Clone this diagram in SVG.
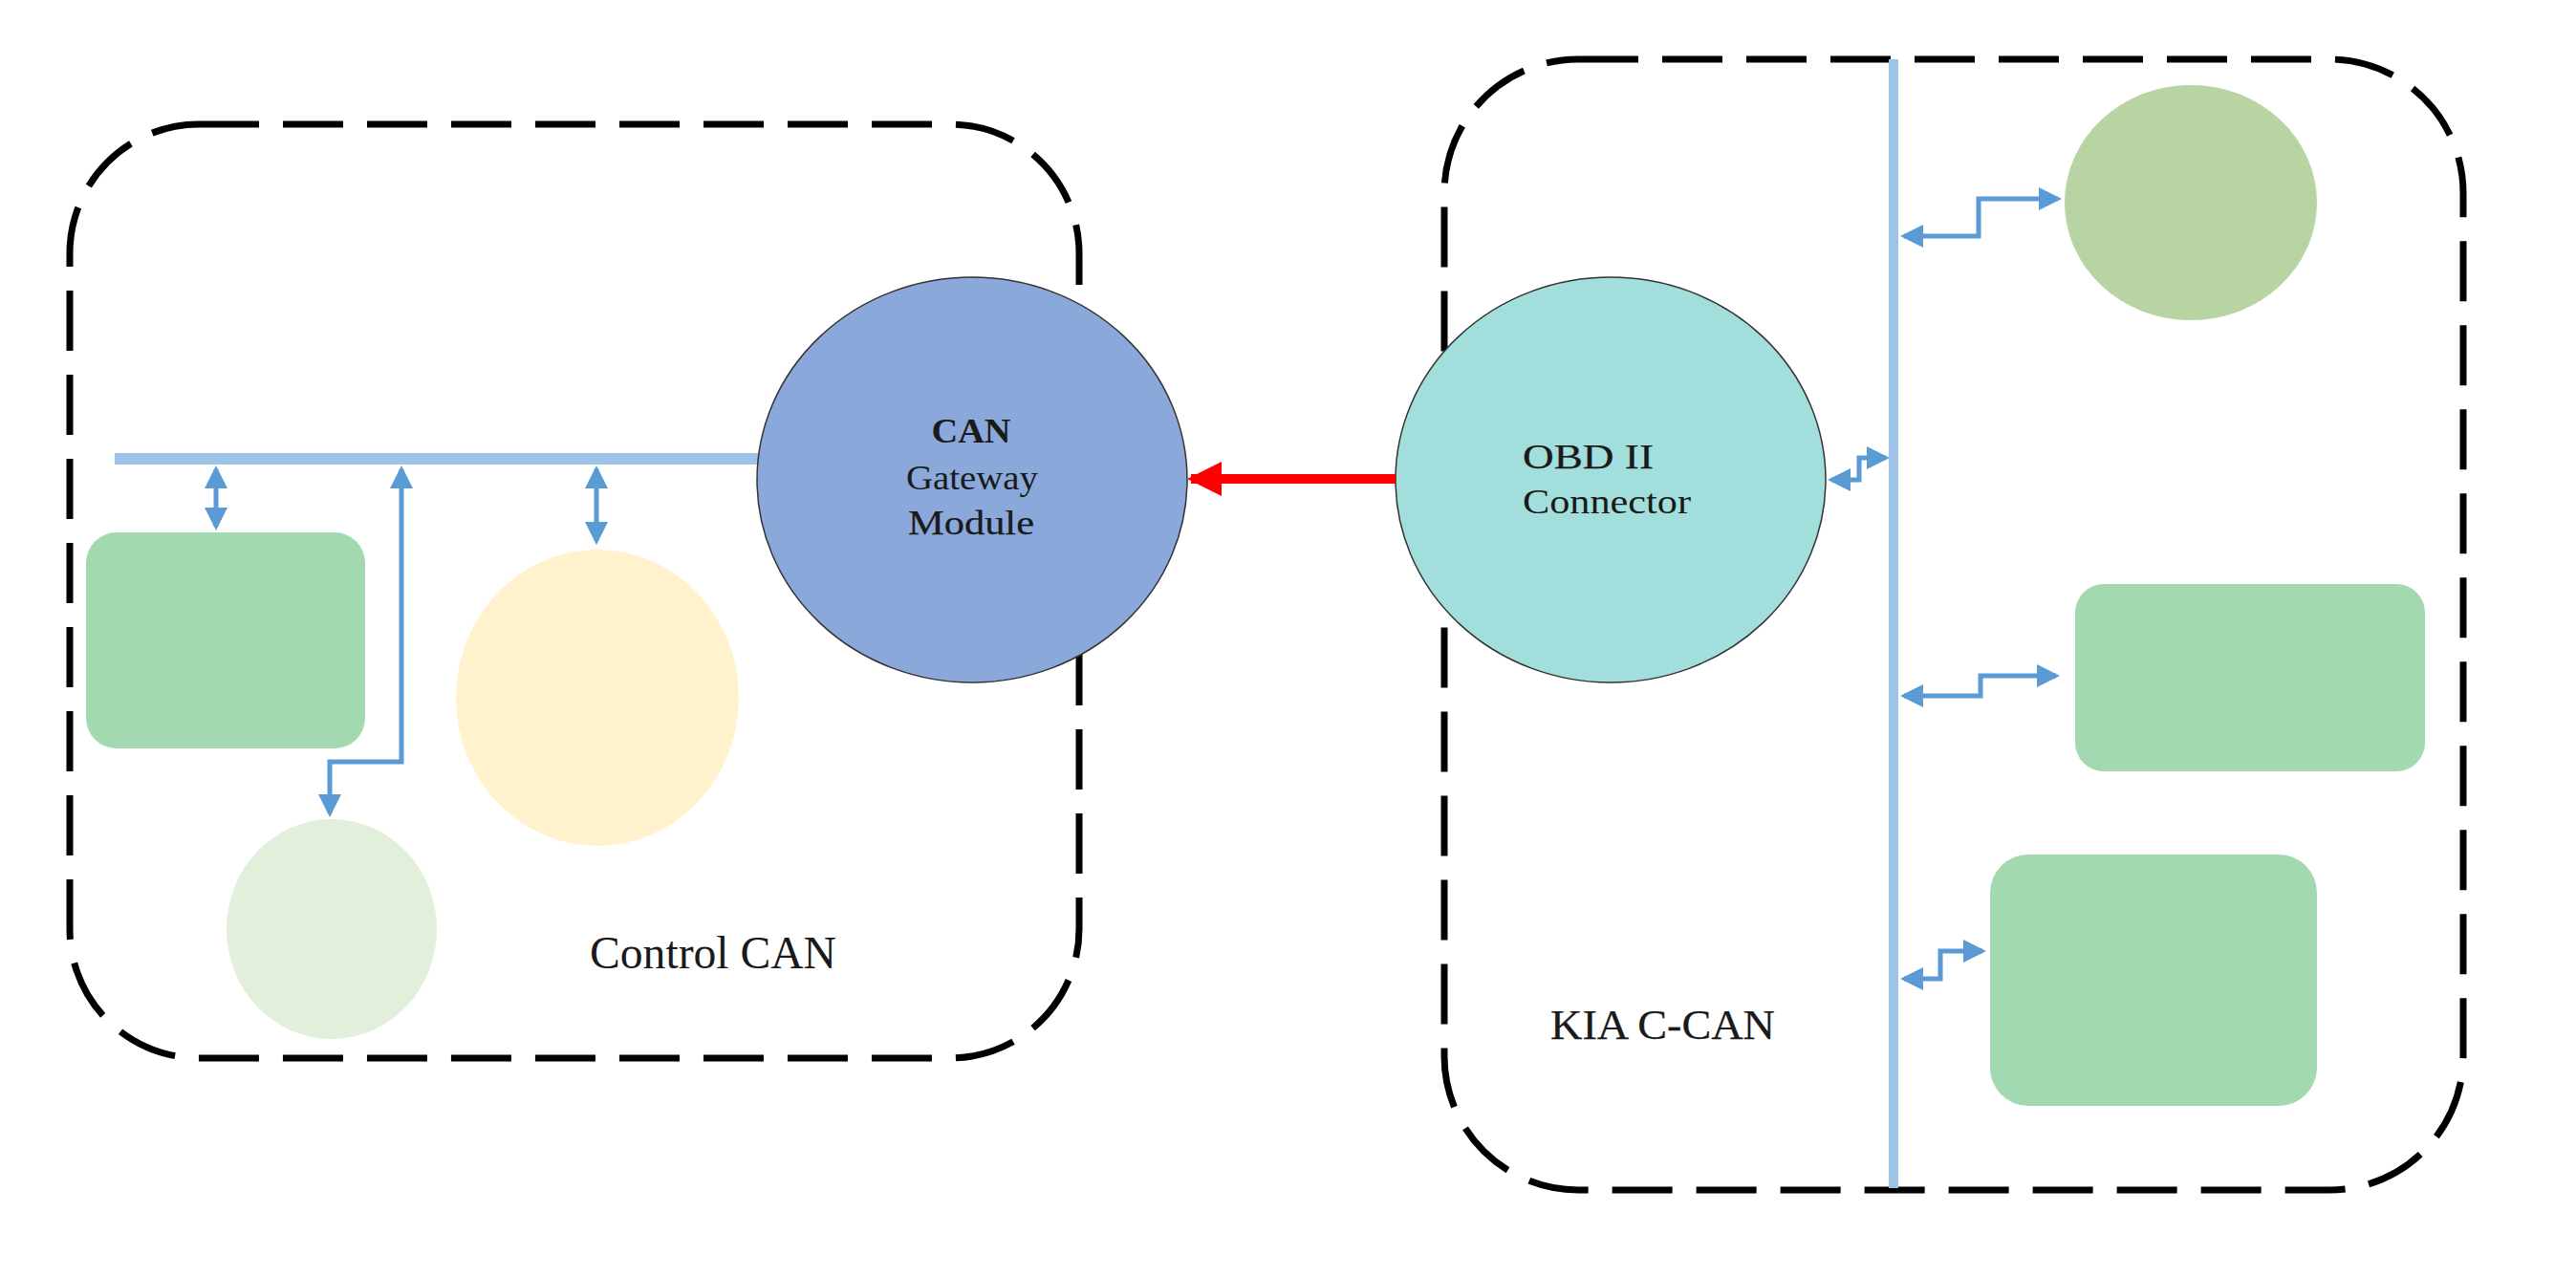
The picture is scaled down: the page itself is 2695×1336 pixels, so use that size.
<svg xmlns="http://www.w3.org/2000/svg" width="2695" height="1336" viewBox="0 0 2695 1336">
  <style>
    .domain { fill: none; stroke: #000000; stroke-width: 7; stroke-dasharray: 63 25; }
    .bus { stroke: #9DC3E6; fill: none; }
    .link { fill: none; stroke: #5B9BD5; stroke-width: 5; marker-start: url(#blueHead); marker-end: url(#blueHead); }
    .hub { stroke: #333333; stroke-width: 1.5; }
    .lbl { font-family: "Liberation Serif", "Times New Roman", serif; fill: #1a1a1a; }
    .heavy { stroke: #1a1a1a; stroke-width: 0.25; }
  </style>
  <defs>
    <marker id="blueHead" markerUnits="userSpaceOnUse" markerWidth="24" markerHeight="24" viewBox="0 0 24 24" refX="20" refY="12" orient="auto-start-reverse">
      <path d="M0,0 L24,12 L0,24 z" fill="#5B9BD5"/>
    </marker>
    <marker id="redHead" markerUnits="userSpaceOnUse" markerWidth="36" markerHeight="36" viewBox="0 0 36 36" refX="32" refY="18" orient="auto">
      <path d="M0,0 L36,18 L0,36 z" fill="#FF0000"/>
    </marker>
  </defs>

  <rect x="0" y="0" width="2695" height="1336" fill="#FFFFFF"/>

  <g id="control-can-domain">
    <rect class="domain" x="73" y="130" width="1056" height="977" rx="135" ry="135"/>
    <text class="lbl" x="617" y="1013" font-size="48" textLength="258" lengthAdjust="spacingAndGlyphs">Control CAN</text>
  </g>

  <g id="kia-ccan-domain">
    <rect class="domain" x="1511" y="62" width="1066" height="1183" rx="140" ry="140"/>
    <text class="lbl heavy" x="1622" y="1087" font-size="45" textLength="235" lengthAdjust="spacingAndGlyphs">KIA C-CAN</text>
  </g>

  <g id="buses">
    <line class="bus" x1="120" y1="480" x2="800" y2="480" stroke-width="12"/>
    <line class="bus" x1="1981" y1="62" x2="1981" y2="1243" stroke-width="10"/>
  </g>

  <g id="ecu-left-rect">
    <rect x="90" y="557" width="292" height="226" rx="32" ry="32" fill="#A2D9B1"/>
  </g>
  <g id="ecu-left-yellow">
    <ellipse cx="625" cy="730" rx="148" ry="155" fill="#FFF2CC"/>
  </g>
  <g id="ecu-left-lightgreen">
    <ellipse cx="347" cy="972" rx="110" ry="115" fill="#E2EFDA"/>
  </g>

  <g id="gateway">
    <ellipse class="hub" cx="1017" cy="502" rx="225" ry="212" fill="#8AA8DA"/>
    <text class="lbl" x="1016" y="463" font-size="36" font-weight="bold" text-anchor="middle" textLength="83" lengthAdjust="spacingAndGlyphs">CAN</text>
    <text class="lbl" x="1017" y="512" font-size="36" text-anchor="middle" textLength="138" lengthAdjust="spacingAndGlyphs">Gateway</text>
    <text class="lbl heavy" x="1016" y="559" font-size="36" text-anchor="middle" textLength="132" lengthAdjust="spacingAndGlyphs">Module</text>
  </g>

  <g id="obd">
    <ellipse class="hub" cx="1685" cy="502" rx="225" ry="212" fill="#A2DEDB"/>
    <text class="lbl heavy" x="1593" y="490" font-size="36" textLength="137" lengthAdjust="spacingAndGlyphs">OBD II</text>
    <text class="lbl" x="1593" y="537" font-size="36" textLength="176" lengthAdjust="spacingAndGlyphs">Connector</text>
  </g>

  <g id="ecu-right-circle">
    <ellipse cx="2292" cy="212" rx="132" ry="123" fill="#B8D4A2"/>
  </g>
  <g id="ecu-right-rect-mid">
    <rect x="2171" y="611" width="366" height="196" rx="30" ry="30" fill="#A2D9B1"/>
  </g>
  <g id="ecu-right-rect-low">
    <rect x="2082" y="894" width="342" height="263" rx="40" ry="40" fill="#A2D9B1"/>
  </g>

  <g id="connectors">
    <path class="link" d="M226,491 V551"/>
    <path class="link" d="M420,491 V797 H345 V851"/>
    <path class="link" d="M624,491 V566"/>
    <path class="link" d="M1992,247 H2070 V208 H2153"/>
    <path class="link" d="M1992,728 H2072 V707 H2151"/>
    <path class="link" d="M1992,1024 H2030 V995 H2074"/>
    <path class="link" d="M1916,502 H1945 V479 H1973"/>
    <path d="M1460,501 H1246" fill="none" stroke="#FF0000" stroke-width="10" marker-end="url(#redHead)"/>
  </g>
</svg>
